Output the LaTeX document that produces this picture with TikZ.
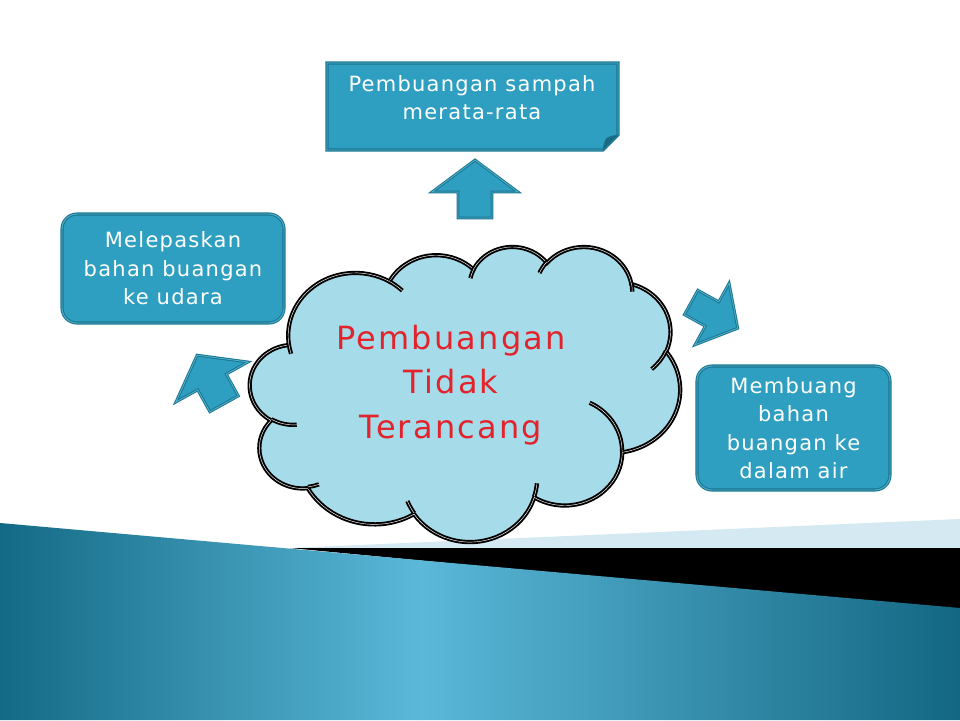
\documentclass[tikz,border=0pt]{standalone}
\usepackage{fontspec}
\setmainfont{DejaVu Sans}
\newfontfamily\cloudfont[LetterSpace=7]{DejaVu Sans}
\newfontfamily\boxfont[LetterSpace=6]{DejaVu Sans}
\definecolor{boxfill}{HTML}{2E9FC0}
\definecolor{boxedge}{HTML}{1D7590}
\definecolor{boxmid}{HTML}{4DB3CF}
\definecolor{boxdark}{HTML}{1A6A82}
\definecolor{cloudfill}{HTML}{A6DCEA}
\definecolor{cloudred}{HTML}{E2232C}
\definecolor{tealdark}{HTML}{136A86}
\definecolor{tealright}{HTML}{136783}
\definecolor{teallight}{HTML}{5BB8D8}
\definecolor{bandlight}{HTML}{D4E9F1}

\newcommand\cloudpathmacro{}
\newcommand\cloudinnermacro{}
\newcommand\clArcCalc[4]{%
  \pgfmathsetmacro\clAs{atan2((#1)*sin(#3),(#2)*cos(#3))}%
  \pgfmathsetmacro\clAe{atan2((#1)*sin((#3)+(#4)),(#2)*cos((#3)+(#4)))}%
  \pgfmathsetmacro\clAd{\clAe-\clAs}%
  \pgfmathsetmacro\clAd{ifthenelse((#4)>0,ifthenelse(\clAd<0,\clAd+360,\clAd),ifthenelse(\clAd>0,\clAd-360,\clAd))}%
}
\newcommand\addcloudarc[4]{%
  \clArcCalc{#1}{#2}{#3}{#4}%
  \xdef\cloudpathmacro{\cloudpathmacro arc[start angle=\clAs,delta angle=\clAd,x radius=#1,y radius=#2]}%
}
\newcommand\addinnerarc[6]{%
  \clArcCalc{#3}{#4}{#5}{#6}%
  \xdef\cloudinnermacro{\cloudinnermacro (#1,#2) arc[start angle=\clAs,delta angle=\clAd,x radius=#3,y radius=#4]}%
}
\newcommand\blockarrowpath{(0,-32) -- (43,0) -- (17,0) -- (17,26) -- (-17,26) -- (-17,0) -- (-43,0) -- cycle}

\tikzset{
  boxstyle/.style={fill=boxfill, draw=boxedge, line width=1.1pt, double=boxmid, double distance=0.9pt},
  boxtext/.style={text=white, align=center, font=\boxfont\fontsize{21}{28.5}\selectfont},
  cloudline/.style={draw=black, line width=1.9pt, double=white, double distance=0.45pt},
  arrowstyle/.style={fill=boxfill, draw=boxedge, line width=1pt, double=boxmid, double distance=0.8pt, line join=miter},
}

\begin{document}
\begin{tikzpicture}[x=1pt,y=-1pt]
\useasboundingbox (0,0) rectangle (960,720);
\fill[white] (0,0) rectangle (960,720);

% cloud geometry (PowerPoint cloud, units of 4320)
\addcloudarc{675.3}{919.0}{-190.4875}{123.7805}
\addcloudarc{533.3}{726.7}{-144.1024}{89.9452}
\addcloudarc{436.5}{594.5}{-145.8079}{99.7230}
\addcloudarc{485.7}{659.5}{-130.9861}{117.2417}
\addcloudarc{533.3}{727.3}{-78.7089}{109.0269}
\addcloudarc{677.5}{922.0}{-46.2673}{130.2690}
\addcloudarc{578.5}{786.7}{0.6250}{114.0333}
\addcloudarc{675.2}{921.5}{22.4516}{115.1726}
\addcloudarc{772.0}{1054.3}{66.2426}{75.7110}
\addcloudarc{436.0}{591.8}{-274.9421}{146.7356}
\addcloudarc{434.5}{594.5}{-246.8285}{152.5189}

\addinnerarc{469.3}{2617.7}{434.5}{594.5}{86.7420}{26.4295}
\addinnerarc{692.8}{3489.9}{436.0}{591.8}{73.6105}{11.4475}
\addinnerarc{1647.8}{3909.0}{675.2}{921.5}{137.6242}{14.0811}
\addinnerarc{2882.7}{3475.1}{675.2}{921.5}{6.4533}{15.9984}
\addinnerarc{3412.9}{2295.4}{578.5}{786.7}{-70.2924}{70.9174}
\addinnerarc{4179.8}{1535.4}{533.3}{727.3}{30.3180}{27.7515}
\addinnerarc{3832.4}{542.6}{485.7}{659.5}{-13.7443}{14.8589}
\addinnerarc{2907.8}{395.2}{485.7}{659.5}{-149.1815}{18.1954}
\addinnerarc{2214.1}{472.0}{436.5}{594.5}{-163.4943}{17.6864}
\addinnerarc{1400.0}{519.2}{675.3}{919.0}{-66.7070}{12.3194}
\addinnerarc{412.7}{1578.9}{675.3}{919.0}{157.6544}{11.8582}

% bottom decoration
\fill[bandlight] (290,548) -- (960,519) -- (960,548) -- cycle;
\fill[black] (290,548) -- (960,548) -- (960,612) -- cycle;
\shade[left color=tealdark, right color=teallight]
  (0,523) -- (420.5,560.2) -- (420.5,720) -- (0,720) -- cycle;
\shade[left color=teallight, right color=tealright]
  (420,560.2) -- (960,608) -- (960,720) -- (420,720) -- cycle;

% top box with folded corner
\path[boxstyle] (327,150) -- (327,63) -- (618,63) -- (618,135) -- (603,150) -- cycle;
\filldraw[fill=boxdark, draw=boxedge, line width=0.8pt] (603,150) .. controls (604,143) and (605,140) .. (607,138) .. controls (610,136.5) and (614,135.5) .. (618,135) -- cycle;
\node[boxtext] (toptext) at (472,97.5) {Pembuangan sampah\\merata-rata};

% side boxes
\node[boxstyle, boxtext, rounded corners=15pt, minimum width=222pt, minimum height=109pt, inner sep=0pt] (leftbox) at (173,268.5) {Melepaskan\\bahan buangan\\ke udara};
\node[boxstyle, boxtext, rounded corners=15pt, minimum width=193pt, minimum height=124pt, inner sep=0pt] (rightbox) at (793.5,428) {Membuang\\bahan\\buangan ke\\dalam air};

% block arrows
\path[arrowstyle, shift={(475,192)}] \blockarrowpath;
\path[arrowstyle, shift={(212,382)}, rotate=29, scale=0.96] \blockarrowpath;
\path[arrowstyle, shift={(712,314)}, rotate=-119, xscale=0.82, yscale=0.92] \blockarrowpath;

% cloud
\begin{scope}[shift={(250,246)}, x=0.099537pt, y=-0.068287pt]
  \filldraw[cloudline, fill=cloudfill] (390,1437) \cloudpathmacro -- cycle;
  \draw[cloudline] \cloudinnermacro;
\end{scope}
\node[text=cloudred, align=center, font=\cloudfont\fontsize{32}{44.5}\selectfont] (cloudtext) at (451,385) {Pembuangan\\Tidak\\Terancang};
\end{tikzpicture}
\end{document}
